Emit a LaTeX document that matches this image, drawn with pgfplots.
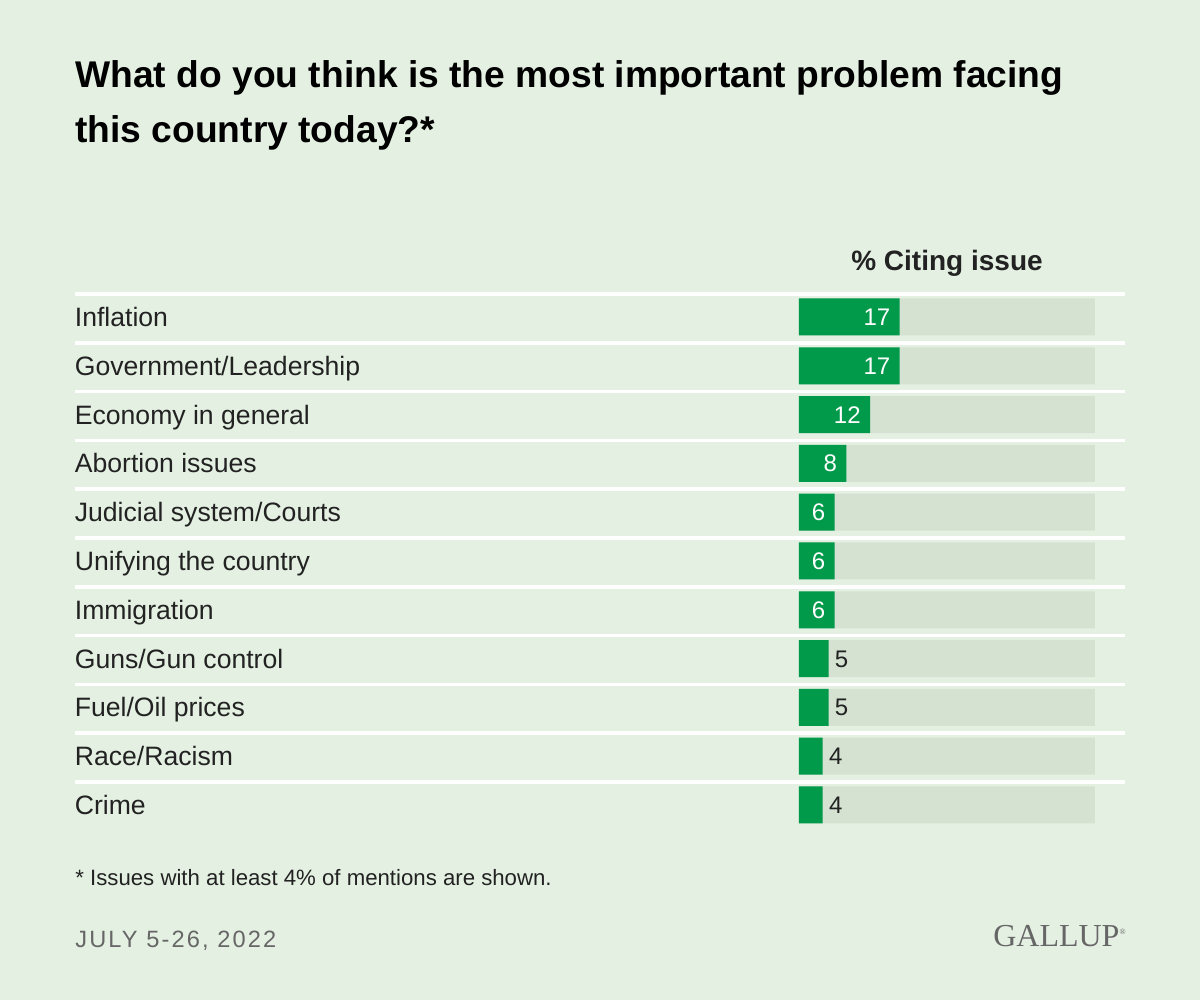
\documentclass[border=0pt]{standalone}
\usepackage{fontspec}
\setmainfont{Liberation Sans}
\newfontfamily\datefont[LetterSpace=9]{Liberation Sans}
\newfontfamily\serif{Liberation Serif}
\usepackage{pgfplots}
\pgfplotsset{compat=1.18}
\definecolor{bg}{HTML}{E4F1E2}
\definecolor{track}{HTML}{D5E1D1}
\definecolor{gr}{HTML}{009A4A}
\definecolor{txt}{HTML}{222222}
\definecolor{datec}{HTML}{666666}
\begin{document}
\begin{tikzpicture}[x=1pt,y=1pt]
\fill[bg] (0,0) rectangle (600,500);
% title
\node[anchor=base west, inner sep=0, text=black, font=\fontsize{18.6}{22}\selectfont\bfseries] at (37.5,456) {What do you think is the most important problem facing};
\node[anchor=base west, inner sep=0, text=black, font=\fontsize{18.6}{22}\selectfont\bfseries] at (37.5,428.5) {this country today?*};
% column header
\node[anchor=base, inner sep=0, text=txt, font=\fontsize{14}{16}\selectfont\bfseries] at (473.5,364.5) {\% Citing issue};
% separators
\foreach \i in {0,...,10}{
  \draw[white, line width=1.75pt] (37.5,353-24.4*\i) -- (562.5,353-24.4*\i);
}
\begin{axis}[
  at={(399.5pt,353.7pt)}, anchor=north west,
  width=148pt, height=268.4pt, scale only axis,
  xmin=0, xmax=50, ymin=-0.5, ymax=10.5, y dir=reverse,
  axis line style={draw=none}, tick style={draw=none},
  /pgf/number format/assume math mode=true,
  xtick=\empty,
  ytick={0,...,10},
  yticklabels={Inflation,Government/Leadership,Economy in general,Abortion issues,Judicial system/Courts,Unifying the country,Immigration,Guns/Gun control,Fuel/Oil prices,Race/Racism,Crime},
  yticklabel style={anchor=west, inner sep=0, xshift=-358pt, text=txt,
    font=\fontsize{13.3}{15}\selectfont, text height=9.5pt, text depth=0pt},
  xbar, bar shift=0pt, bar width=18.5pt,
  clip=false,
]
\addplot[fill=track, draw=none] coordinates {(50,0) (50,1) (50,2) (50,3) (50,4) (50,5) (50,6) (50,7) (50,8) (50,9) (50,10)};
\addplot[fill=gr, draw=none, nodes near coords,
  nodes near coords style={anchor=east, inner sep=0, xshift=-4.5pt, text=white,
    font=\fontsize{12}{14}\selectfont, text height=8.6pt, text depth=0pt}]
  coordinates {(17,0) (17,1) (12,2) (8,3) (6,4) (6,5) (6,6)};
\addplot[fill=gr, draw=none, nodes near coords,
  nodes near coords style={anchor=west, inner sep=0, xshift=3pt, text=txt,
    font=\fontsize{12}{14}\selectfont, text height=8.6pt, text depth=0pt}]
  coordinates {(5,7) (5,8) (4,9) (4,10)};
\end{axis}
% footnote
\node[anchor=base west, inner sep=0, text=txt, font=\fontsize{11.1}{13}\selectfont] at (37.5,57) {* Issues with at least 4\% of mentions are shown.};
\node[anchor=base west, inner sep=0, text=datec, font=\fontsize{11.8}{13}\datefont] at (37.5,26.2) {JULY 5-26, 2022};
\node[anchor=base east, inner sep=0, text=datec, font=\fontsize{16}{18}\serif] at (563,26.5) {GALLUP\raisebox{6pt}{\fontsize{4}{4}\selectfont ®}};
\end{tikzpicture}
\end{document}
